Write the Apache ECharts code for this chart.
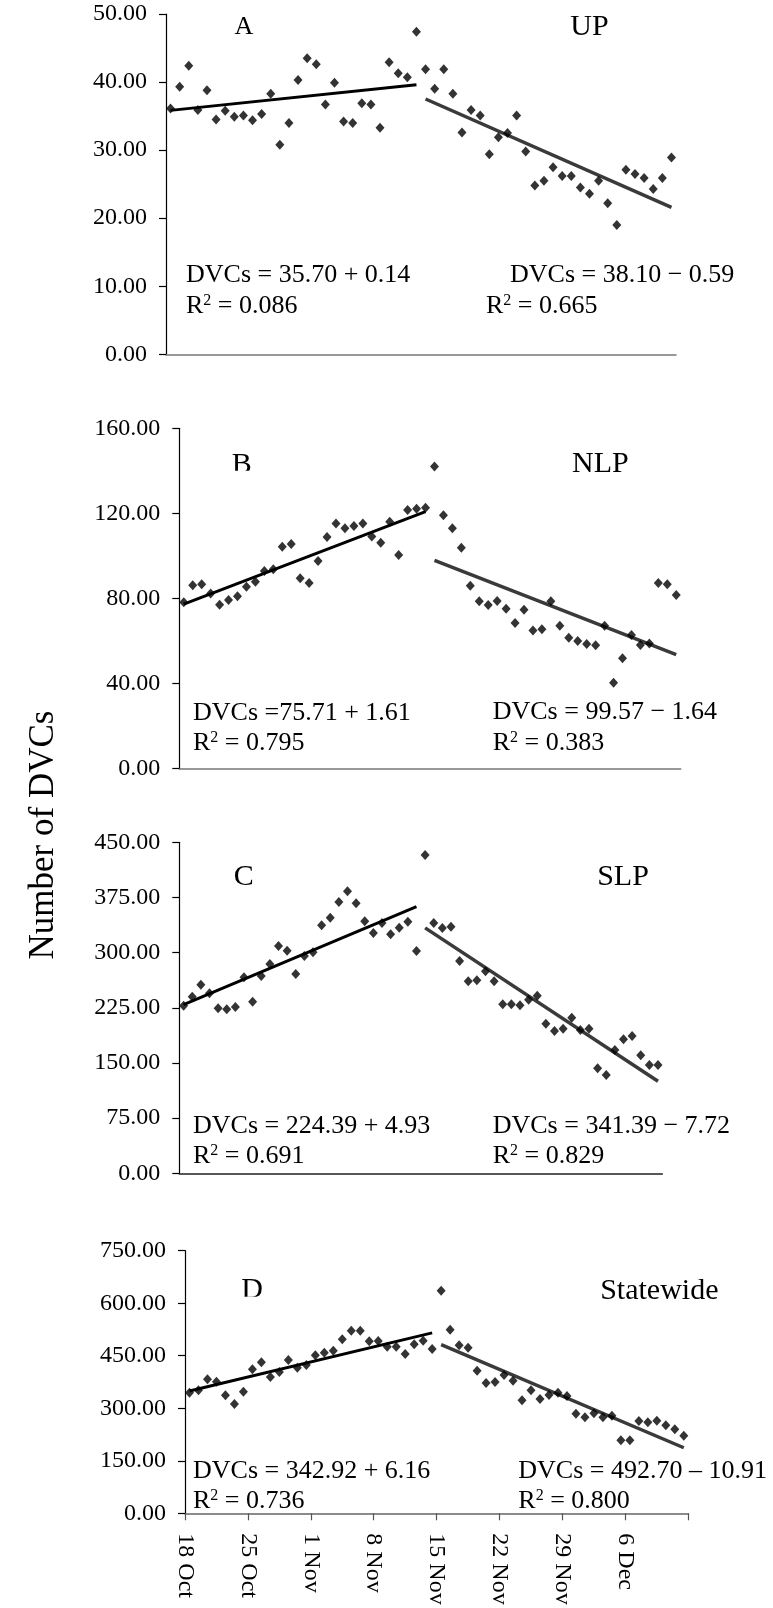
<!DOCTYPE html>
<html>
<head>
<meta charset="utf-8">
<script src="https://cdn.jsdelivr.net/npm/echarts@6/dist/echarts.min.js"></script>
<style>
  html, body { margin: 0; padding: 0; background: #ffffff; }
  #chart { width: 773px; height: 1608px; }
</style>
</head>
<body>
<div id="chart"></div>
<script>
// Daily deer-vehicle collisions, 18 Oct – 12 Dec (56 days), by region
const tickLabels = ['18 Oct', '25 Oct', '1 Nov', '8 Nov', '15 Nov', '22 Nov', '29 Nov', '6 Dec', ''];

const upCounts = [36.1, 39.3, 42.4, 35.9, 38.8, 34.5, 35.8, 34.9, 35.1, 34.4,
  35.3, 38.3, 30.8, 34.0, 40.3, 43.5, 42.6, 36.7, 39.9, 34.2,
  34.0, 36.9, 36.7, 33.3, 42.9, 41.3, 40.7, 47.4,
  41.9, 39.0, 41.9, 38.3, 32.6, 35.9, 35.1, 29.4, 31.9, 32.5,
  35.1, 29.8, 24.8, 25.5, 27.5, 26.2, 26.2, 24.5, 23.6, 25.5,
  22.2, 19.0, 27.1, 26.5, 25.9, 24.3, 25.9, 28.9];

const nlpCounts = [78.2, 86.2, 86.7, 82.3, 77.1, 79.3, 81.0, 85.5, 87.9, 92.9,
  93.7, 104.3, 105.6, 89.5, 87.3, 97.6, 108.9, 115.3, 113.0, 114.1,
  115.2, 109.1, 106.2, 116.1, 100.4, 121.6, 122.2, 122.7,
  142.0, 119.1, 113.0, 103.9, 86.0, 78.7, 76.9, 78.8, 75.2, 68.5,
  74.7, 65.0, 65.5, 78.7, 67.2, 61.6, 60.0, 58.6, 58.0, 67.2,
  40.4, 51.9, 62.8, 58.1, 58.8, 87.3, 86.7, 81.6];

const slpCounts = [227.8, 240.1, 256.4, 244.7, 224.3, 222.9, 226.1, 266.4, 233.3, 268.2,
  284.5, 309.0, 302.6, 270.9, 295.4, 300.4, 337.1, 347.5, 368.8, 383.4,
  367.0, 342.6, 326.7, 340.3, 324.9, 333.9, 342.0, 302.2,
  432.7, 340.3, 333.5, 335.2, 288.6, 261.0, 262.4, 274.6, 261.0, 229.7,
  229.7, 228.4, 236.0, 241.4, 203.4, 193.4, 196.6, 211.5, 194.8, 196.6,
  142.7, 133.6, 167.6, 182.2, 186.6, 160.4, 147.2, 147.2];

const stateCounts = [344.5, 351.3, 382.7, 375.9, 337.0, 312.2, 347.3, 411.3, 431.3, 389.3,
  403.6, 437.8, 415.9, 423.6, 451.3, 458.7, 464.4, 497.0, 521.5, 521.5,
  491.2, 492.1, 475.8, 475.8, 455.0, 482.7, 493.0, 469.3,
  635.8, 524.4, 479.8, 473.0, 407.3, 372.2, 375.0, 395.0, 378.7, 322.7,
  351.3, 326.5, 337.9, 344.5, 335.0, 284.5, 274.2, 285.6, 274.2, 278.8,
  208.5, 208.5, 263.6, 259.9, 264.5, 251.3, 239.9, 221.6];

// Linear fits [intercept, slope, R²] for the pre-peak and post-peak periods
const earlyFits = [[35.70, 0.14, 0.086], [75.71, 1.61, 0.795], [224.39, 4.93, 0.691], [342.92, 6.16, 0.736]];
const lateFits  = [[38.10, -0.59, 0.665], [99.57, -1.64, 0.383], [341.39, -7.72, 0.829], [492.70, -10.91, 0.800]];

const regionNames = ['UP', 'NLP', 'SLP', 'Statewide'];
const panelLetters = ['A', 'B', 'C', 'D'];
const yMax  = [50, 160, 450, 750];
const yStep = [10, 40, 75, 150];

const allCounts = [upCounts, nlpCounts, slpCounts, stateCounts];
const segmentDays = 28;   // days in each fitted period
const totalDays = 56;

const FONT = "'Liberation Serif', 'Times New Roman', serif";

// Plot-area geometry for each panel
const grids = [
  { left: 166,   top: 14,     width: 510,   height: 340.3 },
  { left: 179.3, top: 428.3,  width: 501.4, height: 340.4 },
  { left: 179.3, top: 842.3,  width: 483,   height: 331 },
  { left: 185,   top: 1250.7, width: 503.3, height: 262.6 }
];
const xAxisColors = ['#777777', '#777777', '#222222', '#666666'];

// Annotation placement (left x, baselines; right x per line, baselines)
const eqPlace = [
  { lx: 186,   ly: [284, 315],     rx: [510, 486],     ry: [284.3, 315] },
  { lx: 193,   ly: [721.7, 751.7], rx: [492.7, 492.7], ry: [720.7, 751.7] },
  { lx: 193,   ly: [1135, 1165],   rx: [492.7, 492.7], ry: [1135, 1165] },
  { lx: 193,   ly: [1480, 1510],   rx: [518.3, 518.3], ry: [1480, 1510] }
];
// spacing after "=" in the early (left) and late (right) equations
const eqGlueEarly = ['= ', '=', '= ', '= '];
const eqGlueLate  = ['= ', '= ', '= ', '= '];
const minusChar = ['\u2212', '\u2212', '\u2212', '\u2013'];

const letterPlace = [
  { x: 244,   top: 18.3,  size: 26, cut: null },
  { x: 241.7, top: 455,   size: 30, cut: 470.7 },
  { x: 243.7, top: 866.7, size: 30, cut: 885 },
  { x: 252,   top: 1280,  size: 30, cut: 1296.7 }
];
const regionPlace = [
  { x: 589.5, y: 27 },
  { x: 600.3, y: 464 },
  { x: 623,   y: 877.5 },
  { x: 659.3, y: 1291 }
];

const EQ_SIZE = 26;

function fitLine(fit, offset) {
  const a = fit[0], b = fit[1];
  return [
    [offset + 0.5, a + b * 1],
    [offset + segmentDays - 0.5, a + b * segmentDays]
  ];
}

function eqText(fit, i, glue) {
  const sign = fit[1] >= 0 ? '+' : minusChar[i];
  return 'DVCs ' + glue + fit[0].toFixed(2) + ' ' + sign + ' ' + Math.abs(fit[1]).toFixed(2);
}

function r2Text(r2) {
  return '{m|R}{s|2}{m| = ' + r2.toFixed(3) + '}';
}

const eqRich = {
  m: { fontFamily: FONT, fontSize: EQ_SIZE, fill: '#000000', lineHeight: 26, verticalAlign: 'middle' },
  s: { fontFamily: FONT, fontSize: 16, fill: '#000000', lineHeight: 16, verticalAlign: 'top' }
};

const option = {
  animation: false,
  backgroundColor: '#ffffff',
  grid: grids.map(g => Object.assign({ containLabel: false }, g)),
  xAxis: grids.map((g, i) => ({
    type: 'value',
    gridIndex: i,
    min: 0,
    max: totalDays,
    interval: 7,
    splitLine: { show: false },
    axisLine: { show: true, onZero: false, lineStyle: { color: xAxisColors[i], width: 1.5 } },
    axisTick: { show: i === 3, inside: false, length: 7, lineStyle: { color: '#555555', width: 1.2 } },
    axisLabel: {
      show: i === 3,
      rotate: -90,
      margin: 20,
      color: '#000000',
      fontFamily: FONT,
      fontSize: 24,
      formatter: v => tickLabels[Math.round(v / 7)] || ''
    }
  })),
  yAxis: grids.map((g, i) => ({
    type: 'value',
    gridIndex: i,
    min: 0,
    max: yMax[i],
    interval: yStep[i],
    splitLine: { show: false },
    axisLine: { show: true, lineStyle: { color: '#000000', width: 1.2 } },
    axisTick: { show: true, inside: false, length: 7, lineStyle: { color: '#000000', width: 1.2 } },
    axisLabel: {
      margin: 19,
      color: '#000000',
      fontFamily: FONT,
      fontSize: 24,
      formatter: v => v.toFixed(2)
    }
  })),
  series: [],
  graphic: []
};

allCounts.forEach((counts, i) => {
  option.series.push({
    type: 'scatter',
    xAxisIndex: i,
    yAxisIndex: i,
    symbol: 'diamond',
    symbolSize: [9, 10],
    itemStyle: { color: '#000000' },
    data: counts.map((v, d) => [d + 0.5, v]),
    z: 3
  });
  option.series.push({
    type: 'line',
    xAxisIndex: i,
    yAxisIndex: i,
    showSymbol: false,
    symbol: 'none',
    lineStyle: { color: '#000000', width: 3 },
    data: fitLine(earlyFits[i], 0),
    z: 2
  });
  option.series.push({
    type: 'line',
    xAxisIndex: i,
    yAxisIndex: i,
    showSymbol: false,
    symbol: 'none',
    lineStyle: { color: '#3a3a3a', width: 3.5 },
    data: fitLine(lateFits[i], segmentDays),
    z: 2
  });

  const p = eqPlace[i];
  const eqLines = [
    { x: p.lx, y: p.ly[0], text: eqText(earlyFits[i], i, eqGlueEarly[i]) },
    { x: p.rx[0], y: p.ry[0], text: eqText(lateFits[i], i, eqGlueLate[i]) }
  ];
  eqLines.forEach(l => {
    option.graphic.push({
      type: 'text',
      x: l.x,
      y: l.y - 0.3375 * EQ_SIZE,
      z: 50,
      style: {
        text: l.text,
        fill: '#000000',
        font: EQ_SIZE + 'px ' + FONT,
        align: 'left',
        verticalAlign: 'middle'
      }
    });
  });
  const r2Lines = [
    { x: p.lx, y: p.ly[1], r2: earlyFits[i][2] },
    { x: p.rx[1], y: p.ry[1], r2: lateFits[i][2] }
  ];
  r2Lines.forEach(l => {
    option.graphic.push({
      type: 'text',
      x: l.x,
      y: l.y - 0.3375 * EQ_SIZE,
      z: 50,
      style: {
        text: r2Text(l.r2),
        rich: eqRich,
        fill: '#000000',
        font: EQ_SIZE + 'px ' + FONT,
        align: 'left',
        verticalAlign: 'middle'
      }
    });
  });

  const lp = letterPlace[i];
  const cap = 0.662 * lp.size;
  option.graphic.push({
    type: 'text',
    x: lp.x,
    y: lp.top + cap / 2,
    z: 50,
    style: {
      text: panelLetters[i],
      fill: '#000000',
      font: lp.size + 'px ' + FONT,
      align: 'center',
      verticalAlign: 'middle'
    }
  });
  if (lp.cut !== null) {
    option.graphic.push({
      type: 'rect',
      z: 60,
      shape: { x: lp.x - 16, y: lp.cut, width: 32, height: 10 },
      style: { fill: '#ffffff' }
    });
  }

  const rp = regionPlace[i];
  option.graphic.push({
    type: 'text',
    x: rp.x,
    y: rp.y,
    z: 50,
    style: {
      text: regionNames[i],
      fill: '#000000',
      font: '30px ' + FONT,
      align: 'center',
      verticalAlign: 'middle'
    }
  });
});

// Shared vertical axis title
option.graphic.push({
  type: 'text',
  x: 44,
  y: 835,
  rotation: Math.PI / 2,
  z: 50,
  style: {
    text: 'Number of DVCs',
    fill: '#000000',
    font: '35px ' + FONT,
    align: 'center',
    verticalAlign: 'middle'
  }
});

const chart = echarts.init(document.getElementById('chart'), null, { renderer: 'canvas' });
chart.setOption(option);
</script>
</body>
</html>
